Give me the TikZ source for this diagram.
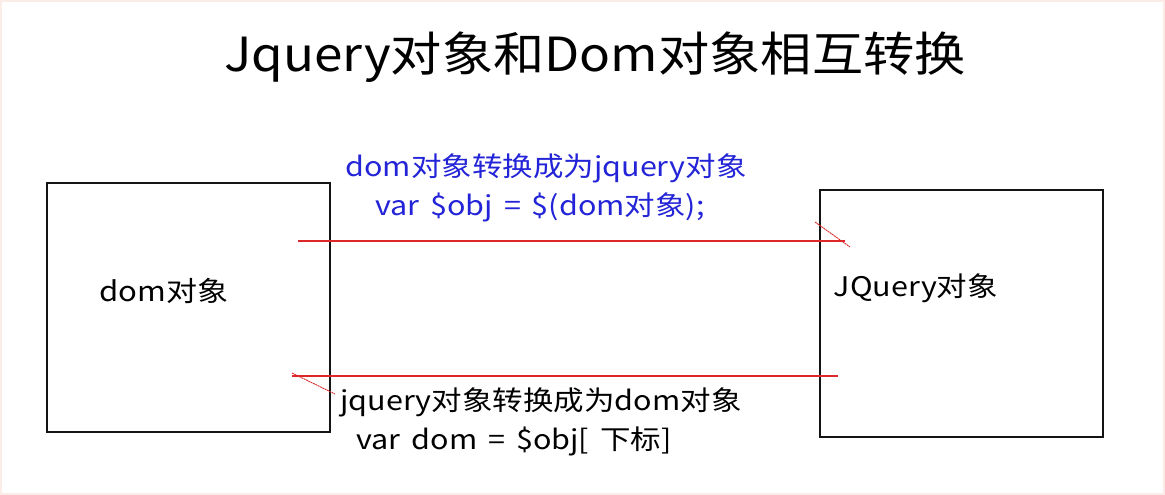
\documentclass[tikz,border=0pt]{standalone}
\usepackage{fontspec}
\setmainfont{Noto Sans CJK SC}
\newfontfamily\titlefont[FakeStretch=1.09]{Noto Sans CJK SC}
\newfontfamily\bodyfont[FakeStretch=1.13,WordSpace=1.6]{Noto Sans CJK SC}
\definecolor{boxline}{RGB}{20,20,20}
\definecolor{arrowred}{RGB}{220,40,40}
\definecolor{textblue}{RGB}{35,35,215}
\definecolor{framepink}{RGB}{252,236,232}
\begin{document}
\begin{tikzpicture}[x=1pt,y=-1pt,
  objbox/.style={draw=boxline,line width=1.3pt,minimum width=283pt,inner sep=0pt},
  lbl/.style={inner sep=0pt,anchor=center},
  conv/.style={draw=arrowred,line width=1.2pt},
  barb/.style={draw=arrowred,line width=0.9pt,dash pattern=on 2pt off 0.6pt}]
\useasboundingbox (0,0) rectangle (1165,495);
\draw[framepink,line width=2pt] (1,1) rectangle (1164,494);
% title
\node[lbl,font=\titlefont\fontsize{47}{50}\selectfont] (title) at (595,57) {Jquery对象和Dom对象相互转换};
% boxes
\node[objbox,minimum height=249pt] (dombox) at (188.5,307.5) {};
\node[objbox,minimum height=247pt] (jqbox) at (961.5,313.5) {};
\node[lbl,font=\bodyfont\fontsize{27.5}{30}\selectfont] (domtxt) at (164,291) {dom对象};
\node[lbl,font=\bodyfont\fontsize{27}{30}\selectfont] (jqtxt) at (916,288) {JQuery对象};
% top conversion
\node[lbl,text=textblue,font=\bodyfont\fontsize{27}{30}\selectfont] (t1) at (546,168) {dom对象转换成为jquery对象};
\node[lbl,text=textblue,font=\bodyfont\fontsize{27}{30}\selectfont] (t2) at (540,207) {var \$obj = \$(dom对象);};
% bottom conversion
\node[lbl,font=\bodyfont\fontsize{27}{30}\selectfont] (b1) at (541,402) {jquery对象转换成为dom对象};
\node[lbl,font=\bodyfont\fontsize{27}{30}\selectfont] (b2) at (514,441) {var dom = \$obj[ 下标]};
% arrows
\coordinate (a1s) at (298,241);
\coordinate (a1e) at (845,241);
\coordinate (a1b1) at (815,222);
\coordinate (a1b2) at (850,247);
\coordinate (a2s) at (838,376);
\coordinate (a2e) at (292,376);
\coordinate (a2b1) at (292,373);
\coordinate (a2b2) at (335,394);
\draw[conv] (a1s) -- (a1e);
\draw[barb] (a1b1) -- (a1b2);
\draw[conv] (a2s) -- (a2e);
\draw[barb] (a2b1) -- (a2b2);
\end{tikzpicture}
\end{document}
